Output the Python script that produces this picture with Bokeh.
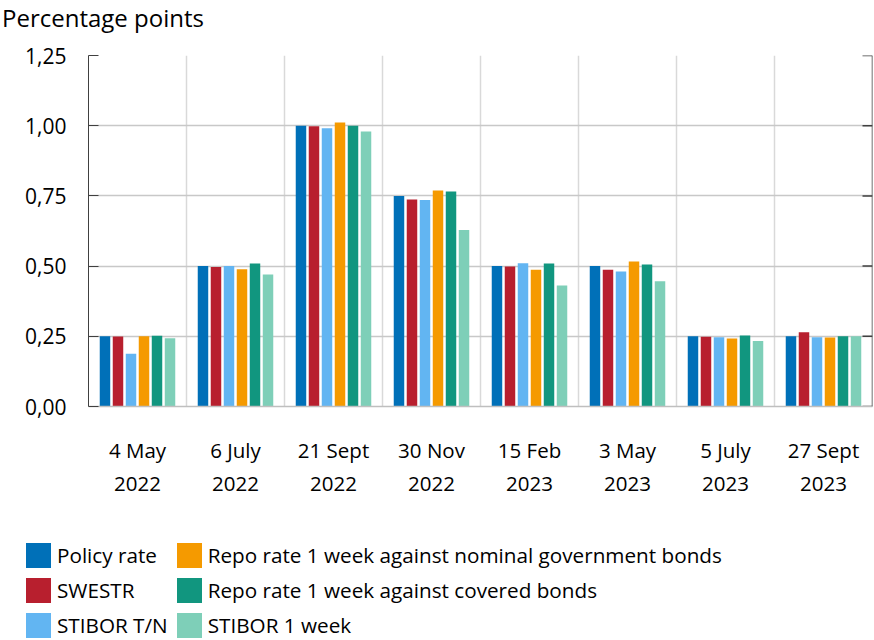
from bokeh.plotting import figure
from bokeh.layouts import column
from bokeh.models import FixedTicker, Range1d, ColumnDataSource, Span, Div
from bokeh.embed import file_html
from bokeh.resources import INLINE

dates = ["4 May\n2022", "6 July\n2022", "21 Sept\n2022", "30 Nov\n2022",
         "15 Feb\n2023", "3 May\n2023", "5 July\n2023", "27 Sept\n2023"]
series_names = ["Policy rate", "SWESTR", "STIBOR T/N",
                "Repo rate 1 week against nominal government bonds",
                "Repo rate 1 week against covered bonds", "STIBOR 1 week"]
policy_rate = [0.250, 0.500, 1.000, 0.750, 0.500, 0.500, 0.250, 0.250]
swestr = [0.249, 0.497, 0.998, 0.737, 0.499, 0.487, 0.248, 0.264]
stibor_tn = [0.188, 0.500, 0.991, 0.735, 0.510, 0.481, 0.247, 0.247]
repo_nominal = [0.250, 0.489, 1.011, 0.769, 0.487, 0.516, 0.242, 0.246]
repo_covered = [0.252, 0.509, 1.000, 0.766, 0.509, 0.506, 0.253, 0.250]
stibor_1w = [0.243, 0.470, 0.979, 0.629, 0.431, 0.446, 0.233, 0.250]
y_ticks = [0, 0.25, 0.5, 0.75, 1.0, 1.25]
y_tick_labels = ["0,00", "0,25", "0,50", "0,75", "1,00", "1,25"]
title_text = "Percentage points"

series = [policy_rate, swestr, stibor_tn, repo_nominal, repo_covered, stibor_1w]
colors = ["#0070b8", "#b81f2e", "#62b5f2", "#f59a00", "#11967f", "#7ecfb8"]
FONT = "Open Sans"

title = Div(text=title_text, width=874, height=37, margin=(0, 0, 0, 0),
            styles={"font-family": FONT, "font-size": "24px", "color": "#000000",
                    "line-height": "24px", "padding-left": "2px", "padding-top": "6px",
                    "box-sizing": "border-box", "background-color": "white"})

n = len(dates)
p = figure(width=874, height=483, x_range=Range1d(0, n), y_range=Range1d(0, 1.25),
           output_backend="svg", toolbar_location=None,
           min_border_left=88, min_border_right=2, min_border_top=18, min_border_bottom=114,
           outline_line_color=None, background_fill_color="white", border_fill_color="white")

pitch = 0.1327
bw = 0.107
for i, (vals, col) in enumerate(zip(series, colors)):
    xs = [k + 0.5 + (i - 2.5) * pitch for k in range(n)]
    src = ColumnDataSource(dict(x=xs, top=vals))
    p.vbar(x="x", top="top", bottom=0, width=bw, source=src, fill_color=col, line_color=None,
           legend_label=series_names[i])
p.legend.visible = False

# axes
xa = p.xaxis[0]
xa.ticker = FixedTicker(ticks=[k + 0.5 for k in range(n)])
xa.major_label_overrides = {k + 0.5: d for k, d in enumerate(dates)}
xa.major_tick_line_color = None
xa.minor_tick_line_color = None
xa.axis_line_color = "#bfbfbf"
xa.axis_line_width = 1.5
xa.major_label_text_font = FONT
xa.major_label_text_font_size = "20.5px"
xa.major_label_text_color = "#000000"
xa.major_label_standoff = 23

ya = p.yaxis[0]
ya.ticker = FixedTicker(ticks=y_ticks)
ya.major_label_overrides = {t: l for t, l in zip(y_ticks, y_tick_labels)}
ya.major_tick_in = 10
ya.major_tick_out = 0
ya.minor_tick_line_color = None
ya.axis_line_color = "#404040"
ya.major_tick_line_color = "#404040"
ya.major_label_text_font = FONT
ya.major_label_text_font_size = "21px"
ya.major_label_text_color = "#000000"
ya.major_label_standoff = 22

# right border with inward ticks
p.add_layout(Span(location=n, dimension="height", line_color="#404040", line_width=1.5))
tick_len = 10 / 98.0
p.segment(x0=[n - tick_len] * len(y_ticks), x1=[n] * len(y_ticks), y0=y_ticks, y1=y_ticks,
          line_color="#404040", line_width=1.5)

p.ygrid.ticker = FixedTicker(ticks=y_ticks)
p.ygrid.grid_line_color = "#c8c8c8"
p.ygrid.grid_line_width = 1.5
p.xgrid.ticker = FixedTicker(ticks=list(range(n + 1)))
p.xgrid.grid_line_color = "#d9d9d9"
p.xgrid.grid_line_width = 1.5

# legend (HTML, 2 columns x 3 rows, column-major order of the series)
order = [0, 3, 1, 4, 2, 5]
cells = []
for idx in order:
    cells.append(
        '<div style="display:flex;align-items:center;height:25px;white-space:nowrap">'
        f'<span style="display:inline-block;flex:none;width:25px;height:25px;'
        f'background:{colors[idx]};margin-right:6px"></span>'
        f'<span>{series_names[idx]}</span></div>')
legend_html = ('<div style="display:grid;grid-template-columns:auto auto;'
               'column-gap:9px;row-gap:10px;justify-content:start">' + "".join(cells) + '</div>')
legend = Div(text=legend_html, width=874, height=120, margin=(0, 0, 0, 0),
             styles={"font-family": FONT, "font-size": "20.7px", "color": "#000000",
                     "line-height": "25px", "padding-left": "26px", "padding-top": "23px",
                     "box-sizing": "border-box", "background-color": "white",
                     "overflow": "hidden"})

layout = column(title, p, legend, spacing=0)
open("out.html", "w").write(file_html(layout, INLINE))
